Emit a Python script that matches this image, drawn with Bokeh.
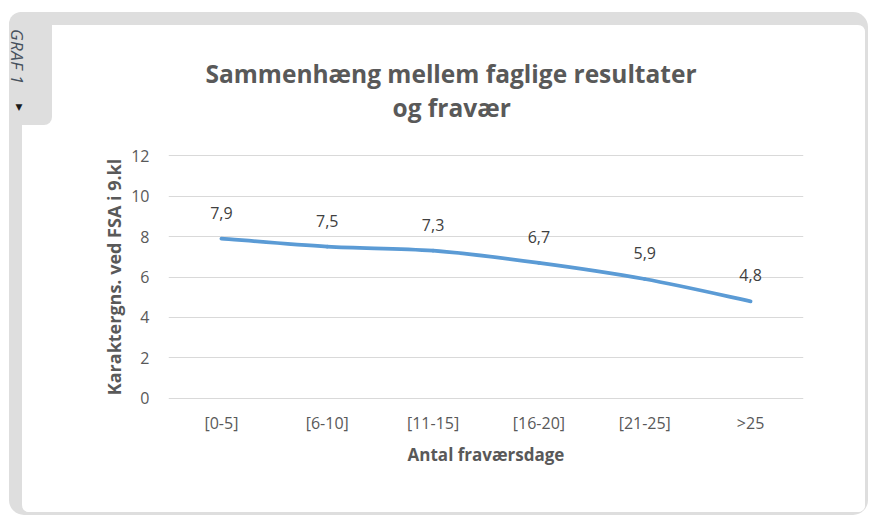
from bokeh.plotting import figure
from bokeh.models import Range1d, FixedTicker, Title, Div
from bokeh.core.properties import value
from bokeh.embed import file_html
from bokeh.resources import INLINE

# ---- data ----
categories = ["[0-5]", "[6-10]", "[11-15]", "[16-20]", "[21-25]", ">25"]
grades = [7.9, 7.5, 7.3, 6.7, 5.9, 4.8]
y_ticks = [0, 2, 4, 6, 8, 10, 12]
title_lines = ["Sammenhæng mellem faglige resultater", "og fravær"]
x_title = "Antal fraværsdage"
y_title = "Karaktergns. ved FSA i 9.kl"
tab_text = "GRAF 1"

# ---- style ----
W, H = 843, 487
FONT = "Open Sans"
TEXT = "#595959"
LABEL = "#404040"
GRID = "#d9d9d9"
FRAME = "#dedede"
LINE = "#5b9bd5"

xs = list(range(len(categories)))

p = figure(width=W, height=H, output_backend="svg", toolbar_location=None,
           x_range=Range1d(-0.5, len(categories) - 0.5),
           y_range=Range1d(-0.1, 12.1),
           min_border_left=146, min_border_right=62,
           min_border_top=128, min_border_bottom=112,
           title=title_lines[0])
p.outline_line_color = None
p.background_fill_color = "white"
p.border_fill_color = "white"
p.styles = {"margin-top": "25px", "margin-left": "22px",
            "border-radius": "7px", "overflow": "hidden",
            "box-shadow": f"-5px -5px 0 8px {FRAME}"}

# title (two lines): p.title is the upper line, the added one sits nearer the frame
p.title.text_font = FONT
p.title.text_font_style = "bold"
p.title.text_font_size = "24.5px"
p.title.text_color = TEXT
p.title.align = "left"
p.title.offset = 37
p.title.standoff = -60
p.add_layout(Title(text=title_lines[1], text_font=FONT, text_font_style="bold",
                   text_font_size="24.5px", text_color=TEXT, align="left",
                   offset=224, standoff=59), "above")

# x axis
p.xaxis.ticker = FixedTicker(ticks=xs)
p.xaxis.major_label_overrides = {i: c for i, c in enumerate(categories)}
p.xaxis.axis_line_color = None
p.xaxis.major_tick_line_color = None
p.xaxis.major_tick_out = 0
p.xaxis.minor_tick_line_color = None
p.xaxis.major_label_text_font = FONT
p.xaxis.major_label_text_font_size = "16px"
p.xaxis.major_label_text_color = TEXT
p.xaxis.major_label_standoff = 11
p.xaxis.axis_label = x_title
p.xaxis.axis_label_text_font = FONT
p.xaxis.axis_label_text_font_style = "bold"
p.xaxis.axis_label_text_font_size = "17px"
p.xaxis.axis_label_text_color = TEXT
p.xaxis.axis_label_standoff = 6
p.xgrid.visible = False

# y axis
p.yaxis.ticker = FixedTicker(ticks=y_ticks)
p.yaxis.axis_line_color = None
p.yaxis.major_tick_line_color = None
p.yaxis.major_tick_out = 0
p.yaxis.minor_tick_line_color = None
p.yaxis.major_label_text_font = FONT
p.yaxis.major_label_text_font_size = "16px"
p.yaxis.major_label_text_color = TEXT
p.yaxis.major_label_standoff = 19
p.yaxis.axis_label = y_title
p.yaxis.axis_label_text_font = FONT
p.yaxis.axis_label_text_font_style = "bold"
p.yaxis.axis_label_text_font_size = "18px"
p.yaxis.axis_label_text_color = TEXT
p.yaxis.axis_label_standoff = 2
p.ygrid.ticker = FixedTicker(ticks=y_ticks)
p.ygrid.grid_line_color = GRID
p.ygrid.grid_line_width = 1

# smoothed line (bezier segments through the data points)
n = len(grades)
x0, y0, x1, y1, cx0, cy0, cx1, cy1 = [], [], [], [], [], [], [], []
for i in range(n - 1):
    xa, ya = (xs[i - 1], grades[i - 1]) if i > 0 else (xs[i], grades[i])
    xb, yb = xs[i], grades[i]
    xc, yc = xs[i + 1], grades[i + 1]
    xd, yd = (xs[i + 2], grades[i + 2]) if i + 2 < n else (xs[i + 1], grades[i + 1])
    x0.append(xb); y0.append(yb); x1.append(xc); y1.append(yc)
    cx0.append(xb + (xc - xa) / 6); cy0.append(yb + (yc - ya) / 6)
    cx1.append(xc - (xd - xb) / 6); cy1.append(yc - (yd - yb) / 6)
p.bezier(x0=x0, y0=y0, x1=x1, y1=y1, cx0=cx0, cy0=cy0, cx1=cx1, cy1=cy1,
         line_color=LINE, line_width=3.75, line_cap="round")

# data labels
p.text(x=xs, y=grades, text=[f"{v:.1f}".replace(".", ",") for v in grades],
       text_font=value(FONT), text_font_size="16px", text_color=LABEL,
       text_align="center", text_baseline="middle", y_offset=-26)

# tab "GRAF 1"
tab = Div(
    text=('<div style="display:flex;flex-direction:column;align-items:center;'
          'padding-top:17px;">'
          '<span style="writing-mode:vertical-rl;font-family:\'Open Sans\';'
          'font-style:italic;font-size:17px;line-height:17px;letter-spacing:0.5px;'
          'color:#46515d;">' + tab_text + '</span>'
          '<span style="font-family:\'DejaVu Sans\';font-size:9px;color:#1a1a1a;'
          'margin-top:16px;margin-left:3px;">&#9660;</span></div>'),
    width=43, height=113, margin=0,
    styles={"position": "absolute", "left": "9px", "top": "12px",
            "background-color": FRAME, "border-radius": "12px 0 8px 0"})

open("out.html", "w").write(file_html([p, tab], INLINE))
